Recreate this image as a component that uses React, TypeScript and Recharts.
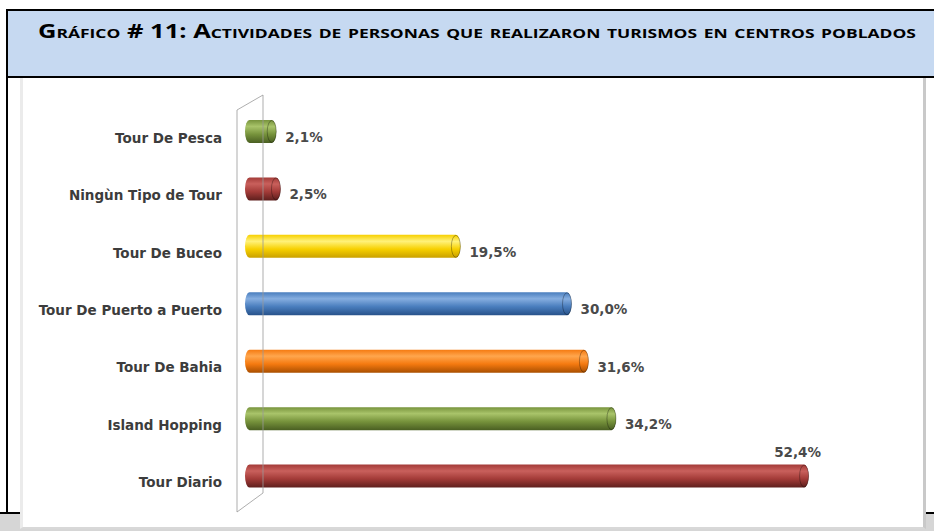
import { BarChart, Bar, XAxis, YAxis, LabelList, Cell } from "recharts";

const categories = [
  "Tour De Pesca",
  "Ningùn Tipo de Tour",
  "Tour De Buceo",
  "Tour De Puerto a Puerto",
  "Tour De Bahia",
  "Island Hopping",
  "Tour Diario",
];
const values = [2.1, 2.5, 19.5, 30.0, 31.6, 34.2, 52.4];
// light / base / dark per bar
const barColors = [
  ["#A9C46A", "#77933C", "#4A5F22"],
  ["#C9605C", "#A33B38", "#5E1F1D"],
  ["#FFF27A", "#F7D000", "#C9A000"],
  ["#86AEE0", "#4A7EBE", "#27528A"],
  ["#FFA64D", "#F57A10", "#A94F00"],
  ["#A9C46A", "#77933C", "#4A5F22"],
  ["#C9605C", "#A33B38", "#5E1F1D"],
];

const TITLE = "Gráfico # 11: Actividades de personas que realizaron turismos en centros poblados";

const W = 934;
const H = 531;
const PLOT_LEFT = 254;
const PLOT_TOP = 103;
const PLOT_BOTTOM = 505;
const X_MAX = 60;

const rows = categories.map((name, i) => ({ name, value: values[i] }));

const fmt = (v: number) => v.toFixed(1).replace(".", ",") + "%";

function CylinderBar(props: any) {
  const { x, y, width, height, fill } = props;
  if (width == null || height == null) return null;
  const rx = 4.5;
  const ry = height / 2;
  const x0 = x - 9;
  const xe = x + width;
  const d = `M${x0 + rx},${y} H${xe - rx} A${rx},${ry} 0 0 1 ${xe - rx},${y + height} H${x0 + rx} A${rx},${ry} 0 0 1 ${x0 + rx},${y} Z`;
  return (
    <g>
      <path d={d} fill={fill} />
      <ellipse
        cx={xe - rx}
        cy={y + ry}
        rx={rx}
        ry={ry - 0.5}
        fill={fill}
        stroke="rgba(0,0,0,0.3)"
        strokeWidth={1}
      />
    </g>
  );
}

function ValueLabel(props: any) {
  const { x, y, width, height, value, index } = props;
  const end = x + width;
  const style = { fontFamily: "'DejaVu Sans', Verdana, sans-serif", fontSize: 13.5, fontWeight: 700, fill: "#4a4a4a" };
  if (index === values.length - 1) {
    return (
      <text x={end - 11} y={y - 13} textAnchor="middle" dominantBaseline="central" style={style}>
        {fmt(value)}
      </text>
    );
  }
  return (
    <text x={end + 9} y={y + height / 2 + 5.5} textAnchor="start" dominantBaseline="central" style={style}>
      {fmt(value)}
    </text>
  );
}

function CategoryTick(props: any) {
  const { x, y, payload } = props;
  return (
    <text
      x={x}
      y={y + 6}
      textAnchor="end"
      dominantBaseline="central"
      style={{ fontFamily: "'DejaVu Sans', Verdana, sans-serif", fontSize: 13.5, fontWeight: 700, fill: "#3c3c3c" }}
    >
      {payload.value}
    </text>
  );
}

export default function App() {
  const wallR = PLOT_LEFT + 9;
  const wallL = PLOT_LEFT - 17;
  return (
    <div style={{ position: "absolute", left: 0, top: 0, width: W, height: H, background: "#fff", overflow: "hidden" }}>
      {/* frame */}
      <div style={{ position: "absolute", left: 6, top: 9, width: W - 6, height: 2, background: "#000" }} />
      <div style={{ position: "absolute", left: 8, top: 11, width: W - 8, height: 65, background: "#C6D9F1" }} />
      <div style={{ position: "absolute", left: 6, top: 76, width: W - 6, height: 2, background: "#000" }} />
      <div style={{ position: "absolute", left: 6, top: 9, width: 2, height: 505, background: "#000" }} />
      <div style={{ position: "absolute", left: 0, top: 512, width: W, height: 2, background: "#000" }} />
      <div style={{ position: "absolute", left: 0, top: 514, width: W, height: H - 514, background: "#D6D6D6" }} />
      <svg style={{ position: "absolute", left: 0, top: 0 }} width={W} height={80}>
        <text
          x={38}
          y={38}
          textLength={878}
          lengthAdjust="spacingAndGlyphs"
          style={{
            fontFamily: "'Liberation Sans Narrow', 'Open Sans', sans-serif",
            fontSize: 19,
            fontWeight: 700,
            fontVariant: "small-caps",
            fill: "#000",
          }}
        >
          {TITLE}
        </text>
      </svg>
      {/* chart box */}
      <div
        style={{
          position: "absolute",
          left: 20,
          top: 78,
          width: 900,
          height: 449,
          background: "#fff",
          borderLeft: "3px solid #EBEBEB",
          borderRight: "3px solid #C9C9C9",
          borderBottom: "2px solid #D8D8D8",
        }}
      />
      <div style={{ position: "absolute", left: 0, top: 0 }}>
        <BarChart
          width={W}
          height={H}
          data={rows}
          layout="vertical"
          margin={{ top: PLOT_TOP, right: W - (PLOT_LEFT + 635), bottom: H - PLOT_BOTTOM, left: 0 }}
        >
          <defs>
            {barColors.map((c, i) => (
              <linearGradient key={i} id={`cyl-${i}`} x1="0" y1="0" x2="0" y2="1">
                <stop offset="0%" stopColor={c[1]} />
                <stop offset="28%" stopColor={c[0]} />
                <stop offset="62%" stopColor={c[1]} />
                <stop offset="100%" stopColor={c[2]} />
              </linearGradient>
            ))}
          </defs>
          <XAxis type="number" domain={[0, X_MAX]} hide />
          <YAxis
            type="category"
            dataKey="name"
            width={PLOT_LEFT}
            axisLine={false}
            tickLine={false}
            tickMargin={26}
            interval={0}
            tick={<CategoryTick />}
          />
          <Bar dataKey="value" barSize={23} isAnimationActive={false} shape={<CylinderBar />}>
            {rows.map((_, i) => (
              <Cell key={i} fill={`url(#cyl-${i})`} />
            ))}
            <LabelList dataKey="value" content={<ValueLabel />} />
          </Bar>
        </BarChart>
      </div>
      {/* 3D back wall */}
      <svg style={{ position: "absolute", left: 0, top: 0, pointerEvents: "none" }} width={W} height={H}>
        <path
          d={`M${wallL},${PLOT_TOP + 7} L${wallR},${PLOT_TOP - 8} L${wallR},${PLOT_BOTTOM - 12} L${wallL},${PLOT_BOTTOM + 7} Z`}
          fill="none"
          stroke="#9a9a9a"
          strokeWidth={1}
          opacity={0.8}
        />
      </svg>
    </div>
  );
}
